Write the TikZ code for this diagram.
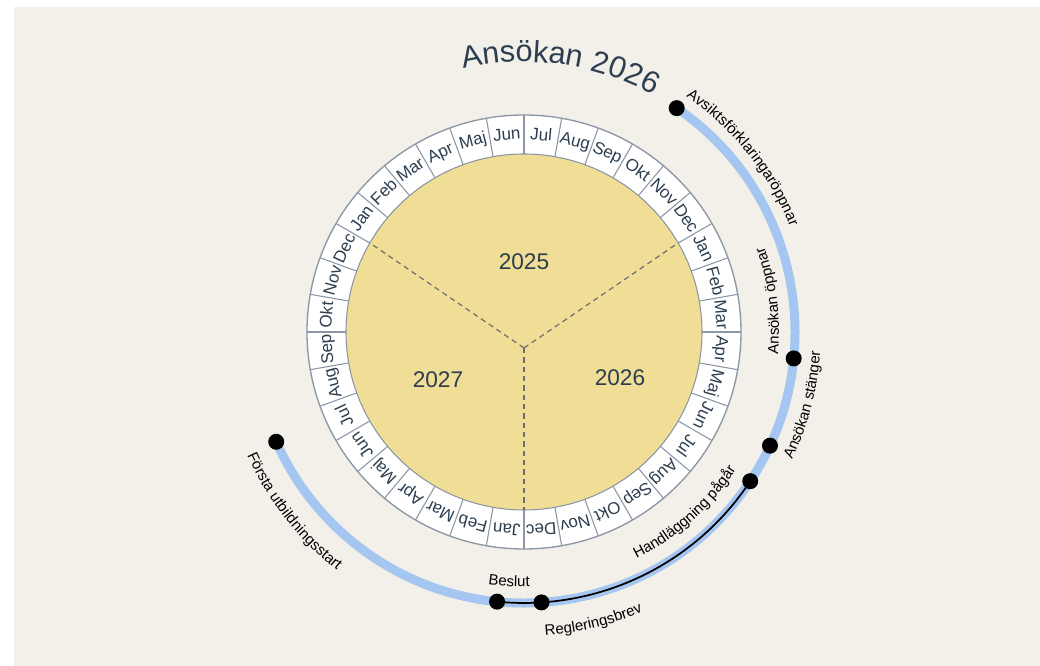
\documentclass[tikz,border=0pt]{standalone}
\usepackage{fontspec}
\setmainfont{Liberation Sans}
\setsansfont{Liberation Sans}
\usetikzlibrary{decorations.text}
\definecolor{bg}{RGB}{243,240,234}
\definecolor{navy}{RGB}{44,62,80}
\definecolor{ringline}{RGB}{140,150,165}
\definecolor{sand}{RGB}{240,221,150}
\definecolor{skyblue}{RGB}{164,198,240}
\definecolor{dashgray}{RGB}{110,110,110}
\newcommand\evfont{\fontsize{11.25}{13}\selectfont}
\newcommand\ttlfont{\fontsize{23}{26}\selectfont\color{navy}}
\tikzset{
  monthlabel/.style={font=\fontsize{12.75}{14}\selectfont, text=navy, inner sep=0pt, text height=1.5ex, text depth=0.25ex, anchor=base},
  yearlabel/.style={font=\fontsize{17}{20}\selectfont, text=navy, inner sep=0pt},
  dot/.style={circle, fill=black, inner sep=0pt, minimum size=12pt},
  cellline/.style={draw=ringline, line width=0.8pt},
  dashline/.style={draw=dashgray, line width=0.9pt, dash pattern=on 4pt off 3pt},
  bluearc/.style={draw=skyblue, line width=6.75pt},
  blackarc/.style={draw=black, line width=1.3pt},
  curvetext/.style={decorate, decoration={text along path, text align=#1}},
}
\begin{document}
\begin{tikzpicture}[x=0.75pt,y=0.75pt]
\useasboundingbox (-524,-334) rectangle (516,332);
\fill[white] (-524,-334) rectangle (516,332);
\fill[bg] (-510,-334) rectangle (516,325);

% ring and disc
\fill[white] (0,0) circle[radius=217];
\fill[sand] (0,0) circle[radius=178];
\foreach \a in {0,10,...,350} \draw[cellline] (\a:178) -- (\a:217);
\draw[ringline, line width=1pt] (0,0) circle[radius=217];
\draw[cellline] (0,0) circle[radius=178];

% months
\foreach \m [count=\k from 0] in {Jan,Feb,Mar,Apr,Maj,Jun,Jul,Aug,Sep,Okt,Nov,Dec,Jan,Feb,Mar,Apr,Maj,Jun,Jul,Aug,Sep,Okt,Nov,Dec,Jan,Feb,Mar,Apr,Maj,Jun,Jul,Aug,Sep,Okt,Nov,Dec}{
  \pgfmathsetmacro\ang{145-10*\k}
  \node[monthlabel, rotate=\ang-90] (m\k) at (\ang:192.5) {\m};
}

% year sectors
\coordinate (hub) at (0,-16);
\coordinate (s1) at (150:178);
\coordinate (s2) at (30:178);
\coordinate (s3) at (270:178);
\draw[dashline] (hub) -- (s1);
\draw[dashline] (hub) -- (s2);
\draw[dashline] (hub) -- (s3);
\node[yearlabel] (y2025) at (0,70) {2025};
\node[yearlabel] (y2027) at (-86,-48) {2027};
\node[yearlabel] (y2026) at (96,-46) {2026};

% title
\path[curvetext=center, decoration={text={|\ttlfont|Ansökan 2026}}] (112.2:270) arc[start angle=112.2, end angle=52.2, radius=270];

% timeline
\coordinate (avsikt) at (55.7:271);
\coordinate (oppnar) at (-5.6:271);
\coordinate (stanger) at (-24.8:271);
\coordinate (handl) at (-33.4:271);
\coordinate (regl) at (-86.3:271);
\coordinate (beslut) at (-95.7:271);
\coordinate (forsta) at (-156.1:271);
\draw[bluearc] (avsikt) arc[start angle=55.7, end angle=-156.1, radius=271];
\draw[blackarc] (handl) arc[start angle=-33.4, end angle=-95.7, radius=271];
\node[dot] (avsiktdot) at (avsikt) {};
\node[dot] (oppnardot) at (oppnar) {};
\node[dot] (stangerdot) at (stanger) {};
\node[dot] (handldot) at (handl) {};
\node[dot] (regldot) at (regl) {};
\node[dot] (beslutdot) at (beslut) {};
\node[dot] (forstadot) at (forsta) {};

% event labels
\path[curvetext=left, decoration={text={|\evfont|Avsiktsförklaringaröppnar}}] (55.5:286) arc[start angle=55.5, end angle=0, radius=286];
\path[curvetext=left, decoration={text={|\evfont|Ansökan öppnar}}] (-5:255) arc[start angle=-5, end angle=40, radius=255];
\path[curvetext=left, decoration={text={|\evfont|Ansökan stänger}}] (-25.5:297) arc[start angle=-25.5, end angle=20, radius=297];
\path[curvetext=right, decoration={text={|\evfont|Handläggning pågår}}] (-80:253) arc[start angle=-80, end angle=-33, radius=253];
\path[curvetext=center, decoration={text={|\evfont|Beslut}}] (-113.4:255) arc[start angle=-113.4, end angle=-73.4, radius=255];
\path[curvetext=left, decoration={text={|\evfont|Regleringsbrev}}] (-86:304) arc[start angle=-86, end angle=-40, radius=304];
\path[curvetext=left, decoration={text={|\evfont|Första utbildningsstart}}] (-156:303) arc[start angle=-156, end angle=-100, radius=303];
\end{tikzpicture}
\end{document}
